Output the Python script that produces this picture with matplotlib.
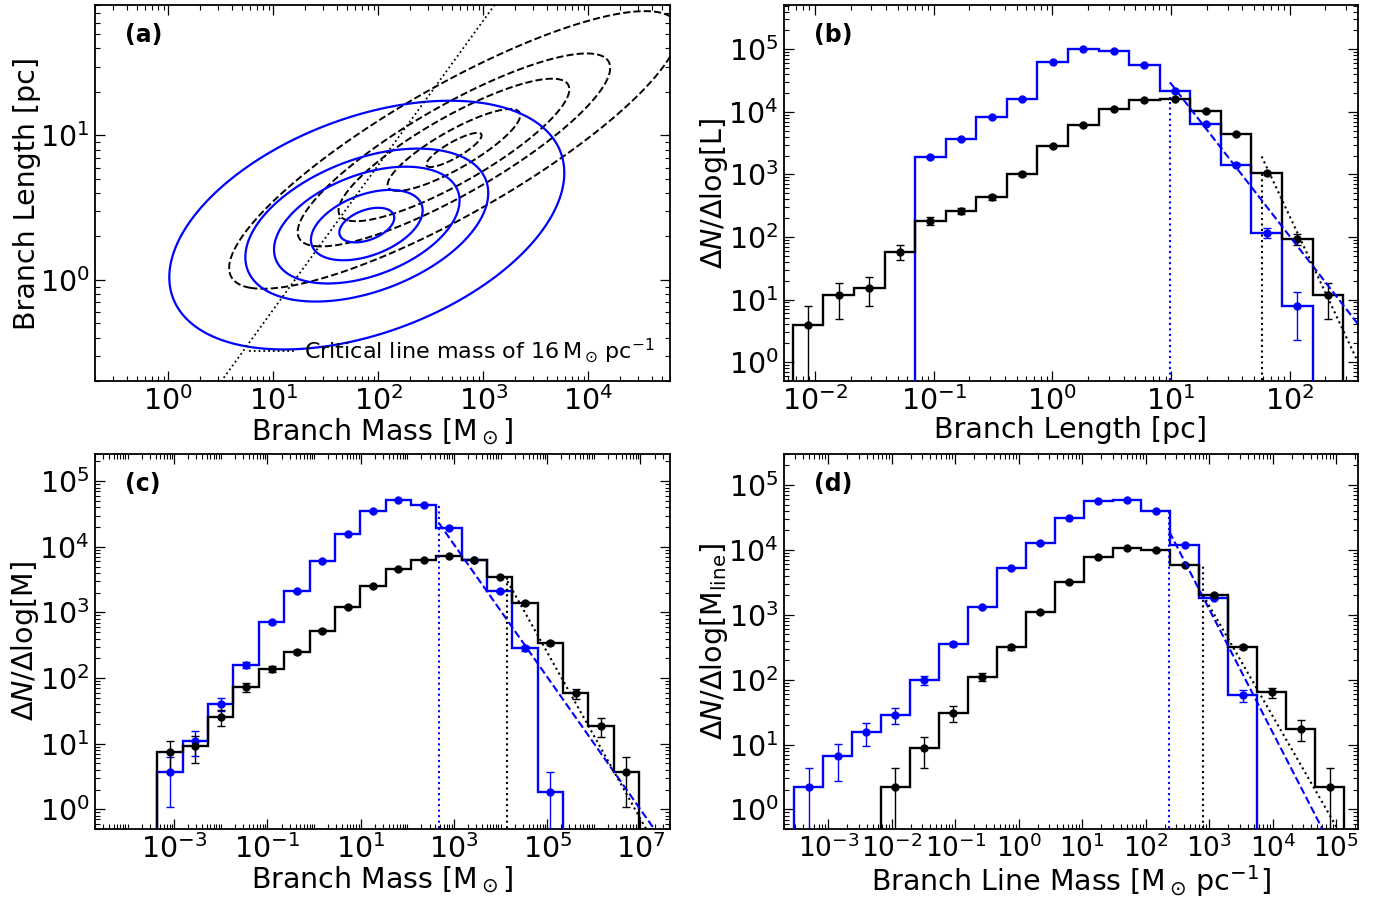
import numpy as np
import matplotlib
matplotlib.use("Agg")
import matplotlib.pyplot as plt
from matplotlib.ticker import FixedLocator, LogFormatterMathtext, NullFormatter

# ---------------- data ----------------
# Panel (b): branch length histograms (counts per log bin)
len_edges_log = (-2.185, 2.45)          # log10 of first / last bin edge
len_counts_black = [1, 3, 4, 15, 47, 68, 111, 263, 739, 1560, 2910, 4043, 4197, 2627, 1133, 270, 24, 3]
len_counts_blue = [0, 0, 0, 0, 487, 932, 2137, 4094, 16171, 25750, 24540, 14317, 5562, 1635, 371, 30, 2, 0]
len_fit_blue = (9.8, 29700.0, -2.44)    # (x0, y0, slope)
len_fit_black = (58.0, 1940.0, -4.05)
len_cut_blue = (9.8, 17000.0)            # (x, top)
len_cut_black = (58.0, 1050.0)

# Panel (c): branch mass histograms
mass_edges_log = (-3.36, 6.97)
mass_counts_black = [4, 5, 14, 40, 75, 136, 287, 663, 1353, 2478, 3478, 3951, 3370, 1919, 755, 184, 32, 10, 2]
mass_counts_blue = [2, 6, 22, 86, 384, 1136, 3315, 8642, 19022, 28262, 23805, 10598, 3424, 1163, 155, 1, 0, 0, 0]
mass_fit_blue = (470.0, 23300.0, -1.01)
mass_fit_black = (14000.0, 3000.0, -1.27)
mass_cut_blue = (470.0, 44000.0)
mass_cut_black = (14000.0, 3500.0)

# Panel (d): branch line-mass histograms
lm_edges_log = (-3.54, 5.124)
lm_counts_black = [0, 0, 0, 1, 4, 14, 51, 143, 506, 1450, 3507, 4879, 4487, 2704, 907, 146, 29, 8, 1]
lm_counts_blue = [1, 3, 7, 13, 45, 162, 606, 2376, 5791, 14045, 25901, 26904, 18194, 5472, 834, 26, 0, 0, 0]
lm_fit_blue = (235.0, 19000.0, -1.9)
lm_fit_black = (800.0, 2000.0, -1.7)
lm_cut_blue = (235.0, 39000.0)
lm_cut_black = (800.0, 5900.0)

# Panel (a): contour density parameters in log10 space
# (centre logM, centre logL, sigma logM, sigma logL, correlation)
kde_blue = (1.89, 0.38, 0.94, 0.43, 0.42)
kde_black = (2.72, 0.9, 1.07, 0.48, 0.85)
levels_blue = [0.135, 0.469, 0.643, 0.852, 0.962]
levels_black = [0.135, 0.38, 0.59, 0.84, 0.97]
crit_line_mass = 16.0

BLUE = "#0000ff"
FS_TICK = 20.5
FS_LABEL = 20.5

# ---------------- figure ----------------
fig = plt.figure(figsize=(13.92, 8.99), dpi=100)
W, H = 1392.0, 899.0
def add_ax(l, r, t, b):
    return fig.add_axes([l / W, 1 - b / H, (r - l) / W, (b - t) / H])

ax_a = add_ax(95, 670, 5, 381)
ax_b = add_ax(784, 1358, 5, 381)
ax_c = add_ax(95, 670, 454, 829)
ax_d = add_ax(784, 1358, 454, 829)


def style_axis(ax, xmaj, ymaj, xlim, ylim, xfs=FS_TICK):
    ax.set_xscale("log")
    ax.set_yscale("log")
    ax.set_xlim(*xlim)
    ax.set_ylim(*ylim)
    for axis, maj, lim in ((ax.xaxis, xmaj, xlim), (ax.yaxis, ymaj, ylim)):
        lo = int(np.floor(np.log10(lim[0]))) - 1
        hi = int(np.ceil(np.log10(lim[1]))) + 1
        majors = [10.0 ** e for e in maj]
        minors = [k * 10.0 ** e for e in range(lo, hi + 1) for k in range(1, 10)
                  if not (k == 1 and e in maj)]
        axis.set_major_locator(FixedLocator(majors))
        axis.set_minor_locator(FixedLocator(minors))
        axis.set_major_formatter(LogFormatterMathtext())
        axis.set_minor_formatter(NullFormatter())
    ax.tick_params(which="both", direction="in", top=True, right=True)
    ax.tick_params(which="major", length=7, width=0.9, labelsize=FS_TICK, pad=4)
    ax.tick_params(axis="x", which="major", labelsize=xfs)
    ax.tick_params(which="minor", length=3.3, width=0.8)
    for s in ax.spines.values():
        s.set_linewidth(1.3)


def draw_hist(ax, edges_lim, counts, color):
    counts = np.asarray(counts, float)
    n = len(counts)
    edges_log = np.linspace(edges_lim[0], edges_lim[1], n + 1)
    width = np.diff(edges_log)
    dens = counts / width
    err = np.sqrt(counts) / width
    nz = np.nonzero(counts)[0]
    i0, i1 = nz[0], nz[-1] + 1
    edges = 10.0 ** edges_log
    ax.stairs(dens[i0:i1], edges[i0:i1 + 1], baseline=1e-4, color=color, lw=1.7, zorder=3)
    centers = 10.0 ** (0.5 * (edges_log[:-1] + edges_log[1:]))
    m = counts > 0
    ax.errorbar(centers[m], dens[m], yerr=err[m], fmt="o", color=color, ms=5,
                capsize=3, elinewidth=1.0, capthick=1.0, zorder=4)


def draw_fit(ax, fit, cut, color, ls):
    x0, y0, slope = fit
    xs = np.logspace(np.log10(x0), np.log10(x0) + 8, 50)
    ax.plot(xs, y0 * (xs / x0) ** slope, color=color, ls=ls, lw=1.5, zorder=5)
    ax.plot([cut[0], cut[0]], [1e-4, cut[1]], color=color, ls=":", lw=1.5, zorder=5)


def set_labels(ax, xl, yl):
    ax.set_xlabel(xl, fontsize=FS_LABEL, labelpad=0)
    ax.set_ylabel(yl, fontsize=FS_LABEL, labelpad=-1)


# ---------- panel (a) ----------
gx = np.linspace(-1.0, 5.0, 500)
gy = np.linspace(-1.0, 2.2, 400)
GX, GY = np.meshgrid(gx, gy)

def density(p):
    cx, cy, sx, sy, rho = p
    dx = (GX - cx) / sx
    dy = (GY - cy) / sy
    q = (dx ** 2 - 2 * rho * dx * dy + dy ** 2) / (1 - rho ** 2)
    return np.exp(-0.5 * q)

ax_a.contour(10 ** GX, 10 ** GY, density(kde_black), levels=levels_black,
             colors="k", linewidths=1.4, linestyles="dashed")
ax_a.contour(10 ** GX, 10 ** GY, density(kde_blue), levels=levels_blue,
             colors=BLUE, linewidths=1.6, linestyles="solid")
mline = np.logspace(-1, 6, 50)
ax_a.plot(mline, mline / crit_line_mass, color="k", ls=":", lw=1.3,
          label=r"Critical line mass of 16$\,$M$_\odot\,$pc$^{-1}$")
style_axis(ax_a, [0, 1, 2, 3, 4], [0, 1], (0.2, 6e4), (0.2, 80))
ax_a.legend(loc="lower right", frameon=False, fontsize=16, handlelength=2.0,
            handletextpad=0.45, borderaxespad=0.3)
set_labels(ax_a, r"Branch Mass [M$_\odot$]", r"Branch Length [pc]")

# ---------- panel (b) ----------
draw_hist(ax_b, len_edges_log, len_counts_blue, BLUE)
draw_hist(ax_b, len_edges_log, len_counts_black, "k")
draw_fit(ax_b, len_fit_blue, len_cut_blue, BLUE, "--")
draw_fit(ax_b, len_fit_black, len_cut_black, "k", ":")
style_axis(ax_b, [-2, -1, 0, 1, 2], [0, 1, 2, 3, 4, 5], (0.0055, 376), (0.5, 5.1e5))
set_labels(ax_b, r"Branch Length [pc]", r"$\Delta N/\Delta\log[\mathrm{L}]$")

# ---------- panel (c) ----------
draw_hist(ax_c, mass_edges_log, mass_counts_blue, BLUE)
draw_hist(ax_c, mass_edges_log, mass_counts_black, "k")
draw_fit(ax_c, mass_fit_blue, mass_cut_blue, BLUE, "--")
draw_fit(ax_c, mass_fit_black, mass_cut_black, "k", ":")
style_axis(ax_c, [-3, -1, 1, 3, 5, 7], [0, 1, 2, 3, 4, 5], (2e-5, 4.3e7), (0.5, 2.6e5))
set_labels(ax_c, r"Branch Mass [M$_\odot$]", r"$\Delta N/\Delta\log[\mathrm{M}]$")

# ---------- panel (d) ----------
draw_hist(ax_d, lm_edges_log, lm_counts_blue, BLUE)
draw_hist(ax_d, lm_edges_log, lm_counts_black, "k")
draw_fit(ax_d, lm_fit_blue, lm_cut_blue, BLUE, "--")
draw_fit(ax_d, lm_fit_black, lm_cut_black, "k", ":")
style_axis(ax_d, [-3, -2, -1, 0, 1, 2, 3, 4, 5], [0, 1, 2, 3, 4, 5], (2e-4, 2.2e5), (0.5, 3e5),
           xfs=19)
set_labels(ax_d, r"Branch Line Mass [M$_\odot\,$pc$^{-1}$]",
           r"$\Delta N/\Delta\log[\mathrm{M_{line}}]$")

for ax, lab in ((ax_a, "(a)"), (ax_b, "(b)"), (ax_c, "(c)"), (ax_d, "(d)")):
    ax.text(0.052, 0.92, lab, transform=ax.transAxes, fontsize=17,
            fontweight="bold", ha="left", va="center")

fig.savefig("out.png", dpi=100)
